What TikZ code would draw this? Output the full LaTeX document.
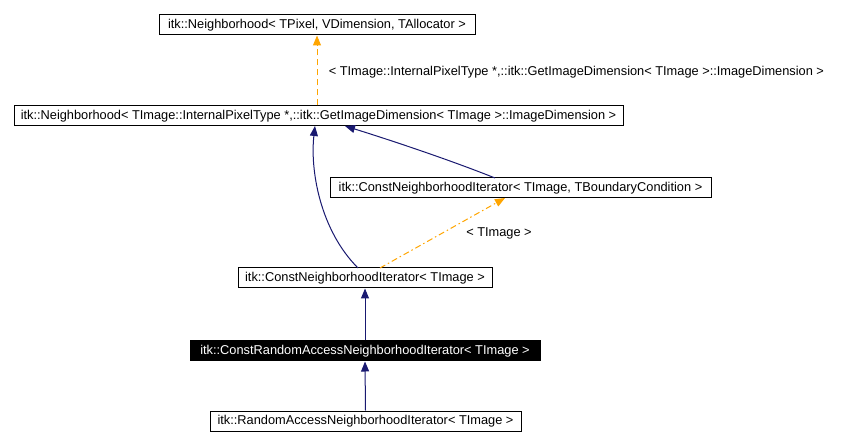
\documentclass[tikz,border=0pt]{standalone}
\usepackage{fontspec}
\setmainfont{Liberation Sans}
\usetikzlibrary{arrows.meta}
\definecolor{navy}{RGB}{25,25,112}
\definecolor{dorange}{RGB}{255,165,0}
\begin{document}
\begin{tikzpicture}[x=1pt,y=-1pt,line width=1pt,
  box/.style={draw=black,fill=white,inner sep=0pt,minimum height=20pt,font=\fontsize{12.8}{14}\selectfont,anchor=center},
  inh/.style={navy,-{Triangle[length=10pt,width=8pt]}},
  tmpl/.style={dorange,dash pattern=on 6pt off 4pt,-{Triangle[length=10pt,width=8pt]}},
  lbl/.style={font=\fontsize{12.8}{14}\selectfont}]
\useasboundingbox (0,0) rectangle (841,446);
\node[box,minimum width=316pt] (n1) at (317,25) {itk::Neighborhood< TPixel, VDimension, TAllocator >};
\node[box,minimum width=609pt] (n2) at (318.5,116) {itk::Neighborhood< TImage::InternalPixelType *,::itk::GetImageDimension< TImage >::ImageDimension >};
\node[box,minimum width=381pt] (n3) at (520.5,188) {itk::ConstNeighborhoodIterator< TImage, TBoundaryCondition >};
\node[box,minimum width=254pt] (n4) at (365,278) {itk::ConstNeighborhoodIterator< TImage >};
\node[box,minimum width=350pt,fill=black,text=white] (n5) at (365,351) {itk::ConstRandomAccessNeighborhoodIterator< TImage >};
\node[box,minimum width=311pt] (n6) at (365.5,421) {itk::RandomAccessNeighborhoodIterator< TImage >};
\draw[tmpl] (n2.north -| n1.south) -- (n1.south);
\node[lbl,anchor=west] (l1) at (325,72) {< TImage::InternalPixelType *,::itk::GetImageDimension< TImage >::ImageDimension >};
\draw[inh] (495,178) .. controls (450,160) and (390,140) .. (345,126);
\draw[inh] (358,268) .. controls (320,230) and (310,170) .. (315,126);
\draw[dorange,dash pattern=on 6pt off 3pt on 1.5pt off 3pt,-{Triangle[length=10pt,width=8pt]}] (380,268) -- (505,198);
\node[lbl] (l2) at (499,233) {< TImage >};
\draw[inh] (n5.north) -- (n4.south);
\draw[inh] (n6.north) -- (n5.south);
\end{tikzpicture}
\end{document}
